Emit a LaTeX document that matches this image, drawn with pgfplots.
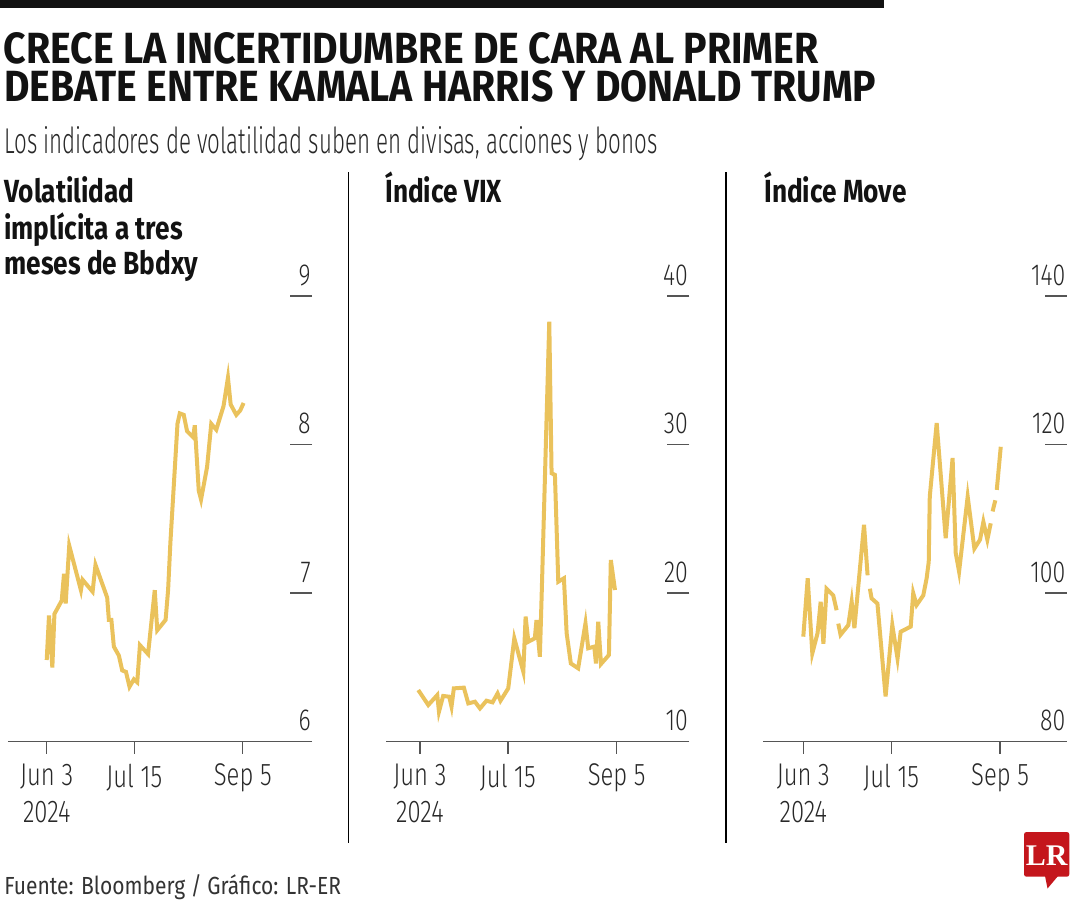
\documentclass[border=0pt]{standalone}
\usepackage{fontspec}
\usepackage{pgfplots}
\pgfplotsset{compat=1.18}
\setmainfont{Fira Sans}
\newfontfamily\lightf{Fira Sans Light}[FakeStretch=0.76]
\newfontfamily\condf{Fira Sans}[FakeStretch=0.82]
\newfontfamily\srcf{Fira Sans}[FakeStretch=0.85]
\newfontfamily\logof{Liberation Serif}
\definecolor{lc}{RGB}{234,194,92}
\definecolor{axgray}{RGB}{85,85,85}
\definecolor{txtgray}{RGB}{40,40,40}
\definecolor{lrred}{RGB}{196,22,28}

\pgfplotsset{
  panel/.style={scale only axis, height=222.85pt, anchor=south west,
    /pgf/number format/assume math mode=true},
  xpart/.style={axis x line=bottom, axis y line=none,
    x axis line style={-, draw=axgray, line width=0.7pt},
    xtick={0,42,94}, xticklabels={{Jun 3\\2024},{Jul 15},{Sep 5}},
    tick align=outside, major tick length=6pt,
    tick style={draw=axgray, line width=0.7pt},
    xticklabel style={align=center, inner sep=0pt, anchor=north, yshift=-4.8pt,
      font=\lightf\fontsize{15.7}{18.85}\selectfont, text=txtgray},
    ytick=\empty},
  ypart/.style={axis x line=none, axis y line=right,
    y axis line style={draw=none}, xtick=\empty,
    tick align=inside, major tick length=11pt,
    tick style={draw=axgray, line width=0.7pt},
    yticklabel style={inner sep=0pt, anchor=south east, yshift=5pt, xshift=-0.5pt,
      font=\lightf\fontsize{15.2}{18}\selectfont, text=txtgray}},
  dline/.style={lc, line width=2pt, line join=miter},
}

\begin{document}
\begin{tikzpicture}[x=0.5pt, y=-0.5pt]
\useasboundingbox (0,0) rectangle (1080,900);
% top bar
\fill[black!93] (0,0) rectangle (884,8.3);
% title
\node[anchor=base west, inner sep=0pt, text=black!93] at (3.4,63.7)
  {\resizebox{407.3pt}{15.5pt}{\bfseries CRECE LA INCERTIDUMBRE DE CARA AL PRIMER}};
\node[anchor=base west, inner sep=0pt, text=black!93] at (4,101.6)
  {\resizebox{435.9pt}{15.5pt}{\bfseries DEBATE ENTRE KAMALA HARRIS Y DONALD TRUMP}};
\node[anchor=base west, inner sep=0pt, text=txtgray] at (4,153)
  {\resizebox{326.5pt}{13.5pt}{\lightf Los indicadores de volatilidad suben en divisas, acciones y bonos}};
% panel titles
\tikzset{ptitle/.style={anchor=base west, inner sep=0pt, text=black!93,
  font=\condf\bfseries\fontsize{16}{18}\selectfont}}
\node[ptitle] at (4,202.3) {Volatilidad};
\node[ptitle] at (4,239) {implícita a tres};
\node[ptitle] at (4,274.3) {meses de Bbdxy};
\node[ptitle] at (385,202.3) {Índice VIX};
\node[ptitle] at (764,202.3) {Índice Move};
% separators
\draw[black, line width=0.6pt] (348.3,172) -- (348.3,843);
\draw[black, line width=0.6pt] (726,172) -- (726,843);
% source
\node[anchor=base west, inner sep=0pt, text=black!80] at (4,894)
  {\resizebox{168.3pt}{!}{\srcf\fontsize{12.5}{14}\selectfont Fuente: Bloomberg / Gráfico: LR-ER}};
% logo
\fill[lrred, rounded corners=1.2pt] (1024,832) rectangle (1069.3,876.7);
\fill[lrred] (1045,876) -- (1047.5,888.5) -- (1058,876) -- cycle;
\node[anchor=base, inner sep=0pt, text=white, font=\logof\bfseries\fontsize{15}{15}\selectfont] at (1046.6,865) {LR};

% ---------- Panel 1 ----------
\begin{axis}[panel, xpart, at={(4pt,-370.85pt)}, width=152pt,
  xmin=-18.56, xmax=127.2, ymin=6, ymax=9]
\end{axis}
\begin{axis}[panel, ypart, at={(4pt,-370.85pt)}, width=152pt,
  xmin=-18.56, xmax=127.2, ymin=6, ymax=9,
  ytick={6,7,8,9}, yticklabels={6,7,8,9}]
\addplot[dline] table {
0 6.55
1.1 6.85
2.7 6.50
3.7 6.86
7.2 6.95
8.3 7.13
9.1 6.93
10.8 7.32
16.4 7.02
17.2 7.09
22 7.01
23.4 7.19
29 6.97
29.8 6.82
31 6.82
32.2 6.64
34.6 6.58
36.2 6.48
38 6.47
39.7 6.37
41.8 6.42
43.4 6.40
44.7 6.65
48.6 6.59
51.8 7.02
53 6.75
57 6.82
58.2 7.02
59.3 7.34
62.7 8.14
63.8 8.21
65.7 8.20
67.3 8.09
70.2 8.05
71 8.13
72.9 7.69
74 7.63
76.9 7.85
78.9 8.14
81.3 8.10
84.8 8.26
86.9 8.45
88.2 8.27
90.9 8.20
92.8 8.23
94.4 8.28
};
\end{axis}

% ---------- Panel 2 ----------
\begin{axis}[panel, xpart, at={(193pt,-370.85pt)}, width=151.65pt,
  xmin=-16.2, xmax=128.7, ymin=10, ymax=40]
\end{axis}
\begin{axis}[panel, ypart, at={(193pt,-370.85pt)}, width=151.65pt,
  xmin=-16.2, xmax=128.7, ymin=10, ymax=40,
  ytick={10,20,30,40}, yticklabels={10,20,30,40}]
\addplot[dline] table {
-0.8 13.48
4 12.47
8.3 13.14
9.1 12.02
11.1 13.08
14 13.03
15.1 12.36
16.2 13.59
21 13.64
23.1 12.58
26.3 12.69
28.7 12.24
31.8 12.76
34.7 12.65
37.1 13.25
38.5 12.76
42.2 13.59
45.1 16.96
49.4 14.71
50.5 18.42
51.8 16.73
54.9 16.96
55.7 18.19
57.3 15.72
58.1 19.54
61.8 38.28
62.9 28.07
64.5 27.96
66.1 20.77
68.8 21.00
70.1 17.30
72.1 15.27
75.6 14.94
79.1 17.97
80.4 16.29
83.3 16.40
84.1 15.27
85.2 18.08
86.5 15.23
90.3 15.84
91.2 22.23
93.2 20.21
};
\end{axis}

% ---------- Panel 3 ----------
\begin{axis}[panel, xpart, at={(381.65pt,-370.85pt)}, width=151.7pt,
  xmin=-19.1, xmax=125.8, ymin=80, ymax=140]
\end{axis}
\begin{axis}[panel, ypart, at={(381.65pt,-370.85pt)}, width=151.7pt,
  xmin=-19.1, xmax=125.8, ymin=80, ymax=140,
  ytick={80,100,120,140}, yticklabels={80,100,120,140}]
\addplot[dline] table {
0 94.14
2.1 102.0
4.3 91.9
6.8 94.6
8.3 98.85
9.6 93.2
11.1 100.6
14.3 99.7
15.9 97.7
};
\addplot[dline] table {
16.7 95.9
17.8 94.4
21.5 95.7
23.1 98.85
24.4 95.3
29 109.2
30.7 102.4
};
\addplot[dline] table {
31.8 100.6
32.6 99.3
35.4 98.6
39.3 86.1
42.5 95.7
45 91.2
46.5 94.8
51.3 95.5
52.5 100.0
54.1 98.4
57.3 99.7
58.9 102.0
59.9 104.2
60.4 113.0
63.7 122.9
68 107.4
71.3 118.2
72.8 105.4
74.4 102.9
78.5 113.0
81.7 106.0
84.4 107.2
86 109.6
87.9 107.2
89.5 109.4
};
\addplot[dline] table {
90.4 111.0
91.7 112.5
};
\addplot[dline] table {
92.4 113.9
94.3 119.7
};
\end{axis}
\end{tikzpicture}
\end{document}
